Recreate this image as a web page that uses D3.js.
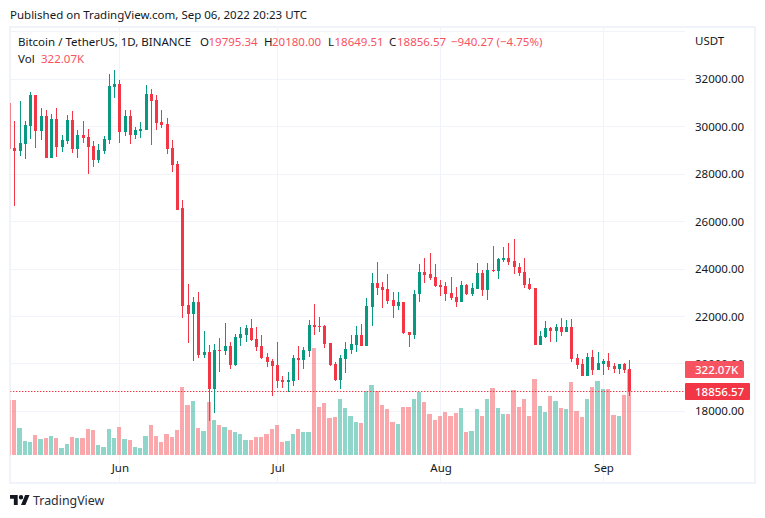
<!DOCTYPE html>
<html>
<head>
<meta charset="utf-8">
<script src="https://cdn.jsdelivr.net/npm/d3@7"></script>
<style>
html, body { margin: 0; padding: 0; background: #fff; }
text { font-family: "Noto Sans", sans-serif; }
</style>
</head>
<body>
<script>
var firstDay = "2022-05-11";

// daily candles, May 11 .. Sep 6
var opens = [31012, 29091, 28964, 29261, 30023, 31336, 29811, 30447, 28668, 30320, 29134, 29388, 30277, 29049, 29642, 29557, 29176, 28583, 28964, 29430, 31675,
    31802, 29769, 30447, 29642, 29811, 29854, 31379, 31125, 30193, 30108, 29091, 28414, 26578, 22475, 22094, 22602, 20360, 20487, 18922, 20572, 20530, 20741, 19937, 21079, 21206, 21502, 21037, 20741, 20275, 20106,
    19937, 19302, 19218, 19260, 20233, 20148, 20530, 21629, 21587, 21587, 20868, 19979, 19302, 20191, 20572, 20783, 21206, 20741, 22390, 23406, 23236, 23152, 22695, 22440, 22610, 21334, 21207, 22951, 23887, 23801, 23674,
    23334, 23291, 22993, 22823, 22610, 23334, 22951, 23163, 23844, 23121, 23972, 23929, 24397, 24482, 24355, 24100, 23887, 23376, 23206, 20781, 21121, 21504, 21376, 21546, 21334, 21546, 20227, 20015, 19504, 20270, 19759,
    20015, 20142, 19930, 19802, 20015, 19795.34];
var highs = [32000, 30235, 31082, 30235, 31463, 31336, 30786, 30701, 30531, 30786, 29642, 30489, 30659, 29854, 30235, 29896, 29388, 29261, 29600, 32226, 32395,
    31972, 30701, 30701, 29981, 30193, 31760, 31590, 31336, 30701, 30362, 29430, 28541, 26916, 23363, 22813, 23025, 21375, 20783, 20825, 21079, 21714, 20910, 21248, 21544, 21629, 21883, 21544, 21206, 20445, 20191,
    20910, 19471, 19641, 20360, 20741, 20698, 21840, 22517, 21967, 21629, 20868, 20064, 20360, 20910, 21206, 21587, 21671, 22771, 23829, 24294, 23448, 23786, 23036, 23036, 22610, 21334, 23121, 24227, 24482, 24695, 24227,
    23546, 23461, 23674, 23248, 23504, 23376, 23419, 24269, 23972, 24269, 24950, 24482, 24908, 25078, 25248, 24269, 24482, 23631, 23206, 21376, 21802, 21546, 21674, 21930, 21845, 21887, 20397, 20185, 20440, 20567, 20482,
    20185, 20440, 20057, 20015, 20057, 20180];
var lows = [27700, 26677, 28752, 28625, 29472, 29091, 29430, 28668, 28668, 28710, 28922, 29261, 28880, 28668, 29303, 27990, 28286, 28456, 28837, 29261, 31209,
    29303, 29600, 29261, 29472, 29515, 29854, 29218, 29854, 29938, 28837, 28075, 26507, 21925, 20868, 20106, 20233, 20233, 17610, 17949, 19641, 20360, 19768, 19895, 20741, 20910, 20952, 20529, 20191, 19852, 18625,
    18964, 18964, 18795, 19049, 19302, 19768, 20275, 21206, 21333, 20656, 19895, 19260, 18922, 19598, 20402, 20487, 20741, 20741, 21587, 22898, 22348, 22517, 21930, 22270, 21249, 20696, 21036, 22610, 23419, 23546, 23248,
    22866, 22653, 22695, 22398, 22610, 22908, 22866, 23163, 22866, 22695, 23887, 23589, 24312, 24184, 23801, 23716, 23206, 23121, 20781, 20781, 21079, 20909, 20909, 21164, 21334, 20100, 19802, 19504, 19504, 19546, 19759,
    19546, 19760, 19632, 19590, 19632, 18649.51];
var closes = [29045, 28964, 29303, 30066, 31336, 29811, 30447, 28668, 30320, 29134, 29430, 30277, 29049, 29642, 29515, 29134, 28583, 29007, 29472, 31718, 31802,
    29769, 30447, 29642, 29854, 29896, 31379, 31082, 30150, 30066, 29049, 28371, 26507, 22433, 22094, 22602, 20360, 20487, 18922, 20572, 20530, 20741, 19937, 21121, 21248, 21502, 20994, 20698, 20233, 20064, 19895,
    19260, 19218, 19302, 20233, 20148, 20572, 21629, 21544, 21544, 20825, 19937, 19302, 20233, 20614, 20825, 21206, 20741, 22433, 23406, 23194, 23109, 22644, 22440, 22610, 21292, 21207, 22951, 23887, 23759, 23631, 23291,
    23248, 22951, 22780, 22610, 23334, 22951, 23206, 23844, 23121, 23972, 23929, 24440, 24482, 24312, 24100, 23844, 23334, 23163, 20781, 21164, 21504, 21376, 21546, 21334, 21546, 20186, 19972, 19504, 20270, 19759, 20057,
    20142, 19887, 19802, 20015, 19760, 18856.57];
// volume in thousands
var volumes = [208, 208, 102, 53, 49, 76, 61, 64, 72, 64, 27, 42, 68, 64, 64, 99, 95, 38, 30, 99, 64,
    106, 61, 57, 30, 27, 72, 114, 72, 49, 80, 68, 95, 258, 189, 205, 102, 91, 201, 133, 114, 106, 95, 87, 80, 57, 57, 68, 68, 80, 99,
    114, 49, 53, 80, 99, 87, 87, 405, 182, 197, 140, 144, 212, 178, 148, 125, 121, 242, 265, 242, 189, 174, 125, 117, 182, 182, 212, 239, 201, 155, 133,
    148, 163, 148, 159, 178, 87, 91, 174, 148, 212, 254, 178, 155, 155, 246, 182, 212, 148, 288, 186, 163, 224, 205, 178, 174, 277, 167, 144, 212, 258, 280,
    250, 250, 152, 148, 227, 322.07];

var gridPrices = [18000, 20000, 22000, 24000, 26000, 28000, 30000, 32000, 34000];
var axisPrices = [18000, 20000, 22000, 24000, 26000, 28000, 30000, 32000];
var monthTicks = ["2022-06-01", "2022-07-01", "2022-08-01", "2022-09-01"];

var legendParts = [
    ["Bitcoin / TetherUS, 1D, BINANCE", 18, "#131722"],
    ["O", 200, "#131722"], ["19795.34", 208.5, "#f7525f"],
    ["H", 264, "#131722"], ["20180.00", 272, "#f7525f"],
    ["L", 328, "#131722"], ["18649.51", 334.5, "#f7525f"],
    ["C", 389, "#131722"], ["18856.57", 397, "#f7525f"],
    ["\u2212940.27 (\u22124.75%)", 451, "#f7525f"]
];

var GREEN = "#089981", RED = "#f23645";
var VOL_GREEN = "rgba(34,171,148,0.5)", VOL_RED = "rgba(245,82,88,0.5)";
var GRID = "#f0f3fa", TEXT = "#131722";
var FONT_SIZE = 11.5;

var width = 765, height = 518;
var paneLeft = 10, paneRight = 685, paneTop = 28, timeBottom = 482;

var svg = d3.select("body").append("svg")
    .attr("width", width)
    .attr("height", height)
    .style("display", "block");

var parseDay = d3.utcParse("%Y-%m-%d");
var days = opens.map(function(d, i) { return d3.utcDay.offset(parseDay(firstDay), i); });

var x = d3.scaleUtc()
    .domain([parseDay("2022-06-01"), parseDay("2022-09-01")])
    .range([119.9, 603.5]);
var y = d3.scaleLinear().domain([18000, 32000]).range([411.3, 79.3]);
var yVol = d3.scaleLinear().domain([0, 322.07]).range([455, 370]);

// pixel column of a day, candles sit on whole pixels
function col(i) { return Math.floor(x(days[i])); }
// volume bars fill the slot with a 1px gap, so they are 4 or 5 wide
function barLeft(i) { return i > 0 ? col(i - 1) + 3 : col(i) - 2; }

svg.append("text")
    .attr("x", 10).attr("y", 19)
    .attr("font-size", FONT_SIZE).attr("fill", TEXT)
    .text("Published on TradingView.com, Sep 06, 2022 20:23 UTC");

// outer frame
svg.append("rect")
    .attr("x", 10).attr("y", 27)
    .attr("width", 745).attr("height", 456)
    .attr("fill", "none").attr("stroke", GRID).attr("stroke-width", 2);

svg.append("defs").append("clipPath").attr("id", "pane")
    .append("rect")
    .attr("x", paneLeft + 0.4).attr("y", paneTop)
    .attr("width", paneRight - paneLeft).attr("height", timeBottom - paneTop);

var pane = svg.append("g").attr("clip-path", "url(#pane)").attr("shape-rendering", "crispEdges");

// grid
pane.selectAll(".hgrid").data(gridPrices).enter().append("line")
    .attr("class", "hgrid")
    .attr("x1", paneLeft).attr("x2", paneRight)
    .attr("y1", function(d) { return Math.floor(y(d)) + 0.5; })
    .attr("y2", function(d) { return Math.floor(y(d)) + 0.5; })
    .attr("stroke", GRID);

pane.selectAll(".vgrid").data(monthTicks).enter().append("line")
    .attr("class", "vgrid")
    .attr("x1", function(d) { return Math.floor(x(parseDay(d))) + 0.5; })
    .attr("x2", function(d) { return Math.floor(x(parseDay(d))) + 0.5; })
    .attr("y1", paneTop).attr("y2", timeBottom)
    .attr("stroke", GRID);

// volume
pane.selectAll(".vol").data(volumes).enter().append("rect")
    .attr("class", "vol")
    .attr("x", function(d, i) { return barLeft(i); })
    .attr("width", function(d, i) { return col(i) + 2 - barLeft(i); })
    .attr("y", function(d) { return yVol(d); })
    .attr("height", function(d) { return yVol(0) - yVol(d); })
    .attr("fill", function(d, i) { return closes[i] >= opens[i] ? VOL_GREEN : VOL_RED; });

// last price line
var lastClose = closes[closes.length - 1];
pane.append("line")
    .attr("x1", paneLeft).attr("x2", paneRight)
    .attr("y1", Math.round(y(lastClose)) + 0.5)
    .attr("y2", Math.round(y(lastClose)) + 0.5)
    .attr("stroke", RED)
    .attr("shape-rendering", "auto")
    .attr("stroke-dasharray", "1.4,1.6");

// candles
var candle = pane.selectAll(".candle").data(days).enter().append("g")
    .attr("class", "candle")
    .attr("fill", function(d, i) { return closes[i] >= opens[i] ? GREEN : RED; });

candle.append("rect")
    .attr("x", function(d, i) { return col(i); })
    .attr("width", 1)
    .attr("y", function(d, i) { return y(highs[i]); })
    .attr("height", function(d, i) { return y(lows[i]) - y(highs[i]); });

candle.append("rect")
    .attr("x", function(d, i) { return col(i) - 1; })
    .attr("width", 3)
    .attr("y", function(d, i) { return y(Math.max(opens[i], closes[i])); })
    .attr("height", function(d, i) { return Math.max(1, Math.abs(y(opens[i]) - y(closes[i]))); });

// legend
svg.append("g").selectAll("text").data(legendParts).enter().append("text")
    .attr("x", function(d) { return d[1]; })
    .attr("y", 46)
    .attr("font-size", FONT_SIZE)
    .attr("fill", function(d) { return d[2]; })
    .text(function(d) { return d[0]; });

svg.append("text").attr("x", 18).attr("y", 63).attr("font-size", FONT_SIZE).attr("fill", TEXT).text("Vol");
svg.append("text").attr("x", 41).attr("y", 63).attr("font-size", FONT_SIZE).attr("fill", "#f7525f")
    .text(d3.format(".2f")(volumes[volumes.length - 1]) + "K");

// axes
var yAxis = svg.append("g")
    .attr("transform", "translate(685,0)")
    .call(d3.axisRight(y).tickValues(axisPrices).tickFormat(d3.format(".2f")).tickSize(0).tickPadding(10));
var xAxis = svg.append("g")
    .attr("transform", "translate(0,460)")
    .call(d3.axisBottom(x).tickValues(monthTicks.map(parseDay)).tickFormat(d3.utcFormat("%b")).tickSize(0).tickPadding(4));
[yAxis, xAxis].forEach(function(a) {
    a.select(".domain").remove();
    a.selectAll("text").attr("font-size", FONT_SIZE).attr("fill", TEXT).style("font-family", '"Noto Sans", sans-serif');
});

svg.append("text").attr("x", 695).attr("y", 45).attr("font-size", FONT_SIZE).attr("fill", TEXT).text("USDT");

// value tags on the price scale
var volTag = svg.append("g");
volTag.append("rect").attr("x", 685).attr("y", 361).attr("width", 59).attr("height", 17).attr("rx", 1).attr("fill", "#f7525f");
volTag.append("text").attr("x", 695).attr("y", 374).attr("font-size", FONT_SIZE).attr("fill", "#fff").attr("font-weight", 500)
    .text(d3.format(".2f")(volumes[volumes.length - 1]) + "K");

var priceTag = svg.append("g");
priceTag.append("rect").attr("x", 685).attr("y", 383).attr("width", 65).attr("height", 17).attr("rx", 1).attr("fill", RED);
priceTag.append("text").attr("x", 695).attr("y", 396).attr("font-size", FONT_SIZE).attr("fill", "#fff").attr("font-weight", 500)
    .text(d3.format(".2f")(lastClose));

// TradingView mark
svg.append("path")
    .attr("transform", "translate(10,492.8) scale(0.55)")
    .attr("fill", TEXT)
    .attr("d", "M14 22H7V11H0V4h14v18zM28 22h-8l7.5-18h8L28 22z M24 8a4 4 0 1 1-8 0a4 4 0 1 1 8 0z");
svg.append("text").attr("x", 33).attr("y", 505).attr("font-size", 12.4).attr("fill", "#2a2e39").text("TradingView");
</script>
</body>
</html>
